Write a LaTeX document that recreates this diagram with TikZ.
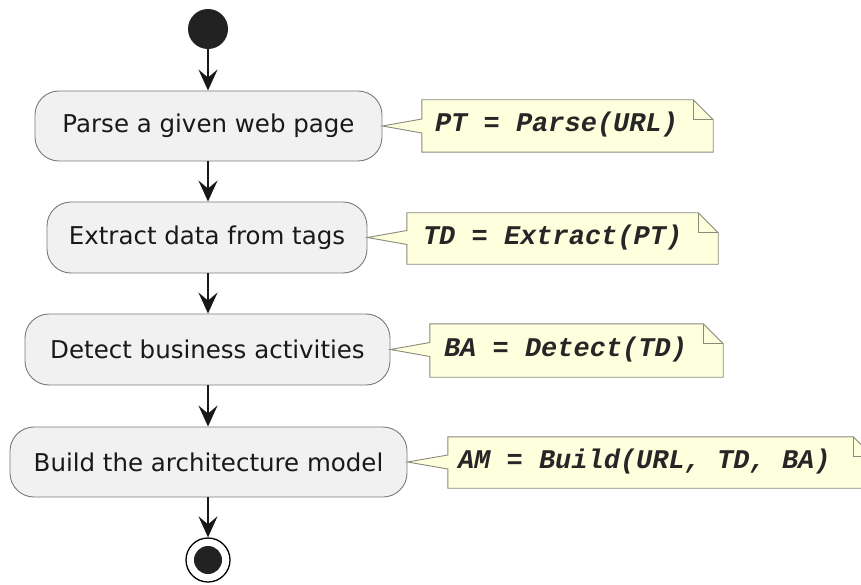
\documentclass[tikz,border=0pt]{standalone}
\usepackage{fontspec}
\setmainfont{DejaVu Sans}
\newfontfamily\notefont{Liberation Mono}
\usetikzlibrary{arrows.meta,calc}
\definecolor{actfill}{HTML}{F1F1F1}
\definecolor{actdraw}{HTML}{7A7A7A}
\definecolor{notefill}{HTML}{FEFFDD}
\definecolor{notedraw}{HTML}{8A8A7A}
\definecolor{dotfill}{HTML}{222222}
\tikzset{
  activity/.style={draw=actdraw, fill=actfill, line width=0.9pt, rounded corners=24pt,
    inner sep=0pt, align=center, font=\fontsize{24.5}{28}\selectfont, text=black!90},
  notearea/.style={inner sep=0pt, draw=none},
  noteshape/.style={draw=notedraw, fill=notefill, line width=0.9pt, line join=miter},
  notetext/.style={anchor=west, inner sep=0pt, text=black!85, font=\notefont\bfseries\itshape\fontsize{27}{30}\selectfont},
  flow/.style={line width=1.6pt, draw=black!90, -{Stealth[length=21pt,width=19pt,inset=8pt]}},
}
\newcommand{\drawnote}[3]{%
  \path[noteshape] (#1.north west) -- ([xshift=-#3]#1.north east) -- ([yshift=-#3]#1.north east)
    -- (#1.south east) -- (#1.south west) -- ($(#1.west |- #2.east)+(0,-7pt)$)
    -- (#2.east) -- ($(#1.west |- #2.east)+(0,7pt)$) -- cycle;
  \draw[noteshape, fill=none] ([xshift=-#3]#1.north east) -- ([xshift=-#3,yshift=-#3]#1.north east) -- ([yshift=-#3]#1.north east);
}
\begin{document}
\begin{tikzpicture}[x=1pt,y=-1pt]
\clip (0,0) rectangle (861,585);
\fill[white] (0,0) rectangle (861,585);

% start
\node[circle, fill=dotfill, minimum size=40pt, inner sep=0pt] (start) at (208,29) {};

% activities
\node[activity, minimum width=347pt, minimum height=70pt] (a1) at (208.5,126) {Parse a given web page};
\node[activity, minimum width=320pt, minimum height=71pt] (a2) at (207,237.5) {Extract data from tags};
\node[activity, minimum width=365pt, minimum height=71pt] (a3) at (207.5,349.5) {Detect business activities};
\node[activity, minimum width=397pt, minimum height=70pt] (a4) at (208.5,462) {Build the architecture model};

% end
\node[circle, draw=black, line width=1.3pt, fill=white, minimum size=44pt, inner sep=0pt] (stop) at (208,560) {};
\node[circle, fill=dotfill, minimum size=28pt, inner sep=0pt] (stopin) at (stop.center) {};

% note areas
\node[notearea, minimum width=291pt, minimum height=52pt] (n1) at (567.5,126) {};
\node[notearea, minimum width=311pt, minimum height=51pt] (n2) at (562.5,238.5) {};
\node[notearea, minimum width=293pt, minimum height=53pt] (n3) at (576.5,350.5) {};
\node[notearea, minimum width=425pt, minimum height=51pt] (n4) at (660.5,462.5) {};

\drawnote{n1}{a1}{20pt}
\drawnote{n2}{a2}{20pt}
\drawnote{n3}{a3}{20pt}
\drawnote{n4}{a4}{20pt}

\node[notetext] (t1) at ([xshift=13pt,yshift=1pt]n1.west) {PT = Parse(URL)};
\node[notetext] (t2) at ([xshift=16pt,yshift=1pt]n2.west) {TD = Extract(PT)};
\node[notetext] (t3) at ([xshift=14pt,yshift=1pt]n3.west) {BA = Detect(TD)};
\node[notetext] (t4) at ([xshift=10pt,yshift=1pt]n4.west) {AM = Build(URL, TD, BA)};

% flows (all on the vertical axis through the start node)
\draw[flow] (start.south) -- (a1.north -| start.center);
\draw[flow] (a1.south -| start.center) -- (a2.north -| start.center);
\draw[flow] (a2.south -| start.center) -- (a3.north -| start.center);
\draw[flow] (a3.south -| start.center) -- (a4.north -| start.center);
\draw[flow] (a4.south -| start.center) -- (stop.north);
\end{tikzpicture}
\end{document}
